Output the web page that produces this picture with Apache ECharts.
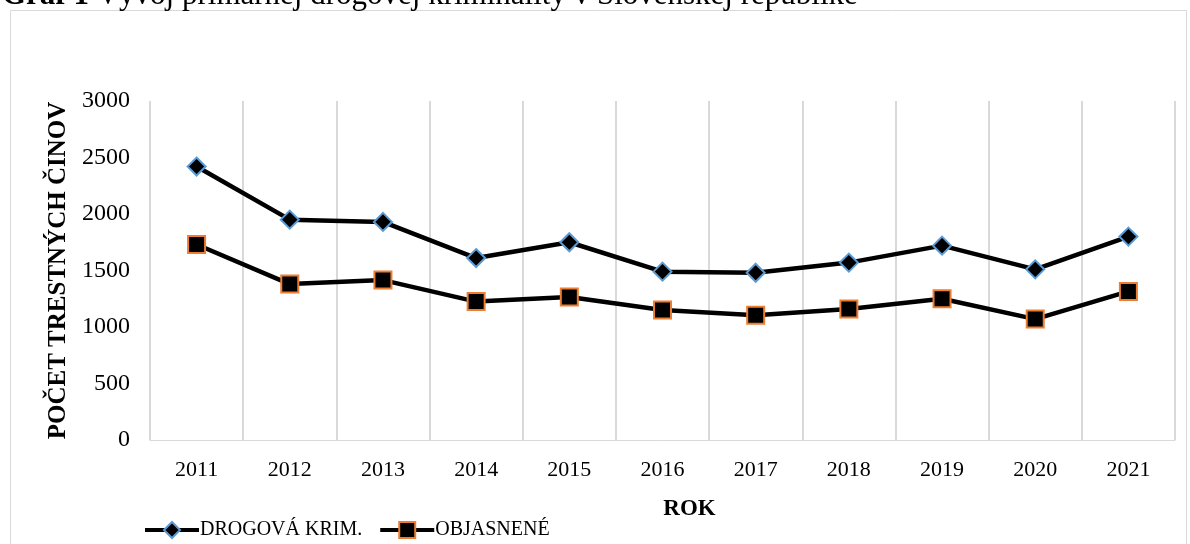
<!DOCTYPE html>
<html>
<head>
<meta charset="utf-8">
<script src="https://cdn.jsdelivr.net/npm/echarts@6/dist/echarts.min.js"></script>
<style>
html,body{margin:0;padding:0;background:#fff;}
#chart{width:1190px;height:544px;}
</style>
</head>
<body>
<div id="chart"></div>
<script>
var years = ['2011','2012','2013','2014','2015','2016','2017','2018','2019','2020','2021'];
var drogova = [2420, 1950, 1930, 1610, 1750, 1490, 1480, 1570, 1720, 1510, 1800];
var objasnene = [1730, 1380, 1415, 1225, 1265, 1150, 1105, 1160, 1250, 1070, 1315];
var yTicks = [0, 500, 1000, 1500, 2000, 2500, 3000];

var font = '"Liberation Serif", "DejaVu Serif", serif';
var myChart = echarts.init(document.getElementById('chart'));

option = {
    backgroundColor: '#fff',
    animation: false,
    title: {
        text: '{b|Graf 1} Vývoj primárnej drogovej kriminality v Slovenskej republike',
        left: -3,
        top: -25,
        textStyle: {
            fontFamily: font,
            fontSize: 31,
            fontWeight: 'normal',
            color: '#000',
            rich: {
                b: {fontFamily: font, fontSize: 31, fontWeight: 'bold', color: '#000'}
            }
        }
    },
    graphic: [{
        type: 'rect',
        shape: {x: 10.5, y: 10.5, width: 1176, height: 600},
        style: {fill: 'none', stroke: '#d9d9d9', lineWidth: 1},
        silent: true
    }],
    legend: {
        left: 138,
        top: 515,
        itemGap: 16,
        itemWidth: 54,
        itemHeight: 20,
        lineStyle: {width: 4},
        textStyle: {fontFamily: font, fontSize: 20, color: '#000', padding: [0, 0, 0, -4]},
        data: ['DROGOVÁ KRIM.', 'OBJASNENÉ']
    },
    grid: {
        left: 150,
        right: 15,
        top: 101,
        bottom: 104
    },
    xAxis: {
        type: 'category',
        data: years,
        boundaryGap: true,
        name: 'ROK',
        nameLocation: 'middle',
        nameGap: 58,
        nameTextStyle: {fontFamily: font, fontSize: 23, fontWeight: 'bold', color: '#000', padding: [0, 0, 0, 54]},
        axisLine: {show: true, lineStyle: {color: '#d9d9d9', width: 1}},
        axisTick: {show: false},
        axisLabel: {fontFamily: font, fontSize: 22, color: '#000', margin: 19},
        splitLine: {show: true, lineStyle: {color: '#d9d9d9', width: 2}}
    },
    yAxis: {
        type: 'value',
        min: yTicks[0],
        max: yTicks[yTicks.length - 1],
        interval: 500,
        name: 'POČET TRESTNÝCH ČINOV',
        nameLocation: 'middle',
        nameGap: 70,
        nameTextStyle: {fontFamily: font, fontSize: 25, fontWeight: 'bold', color: '#000'},
        axisLine: {show: false},
        axisTick: {show: false},
        axisLabel: {
            fontFamily: font, fontSize: 24, color: '#000', margin: 20,
            formatter: function (v) { return String(v); }
        },
        splitLine: {show: false}
    },
    series: [{
        name: 'DROGOVÁ KRIM.',
        type: 'line',
        data: drogova,
        symbol: 'diamond',
        symbolSize: 18,
        lineStyle: {color: '#000', width: 4.5},
        itemStyle: {color: '#000', borderColor: '#5b9bd5', borderWidth: 2}
    }, {
        name: 'OBJASNENÉ',
        type: 'line',
        data: objasnene,
        symbol: 'rect',
        symbolSize: 17,
        lineStyle: {color: '#000', width: 4.5},
        itemStyle: {color: '#000', borderColor: '#ed7d31', borderWidth: 2}
    }]
};
myChart.setOption(option);
window.addEventListener("resize", function(){
    myChart.resize();
});
</script>
</body>
</html>
